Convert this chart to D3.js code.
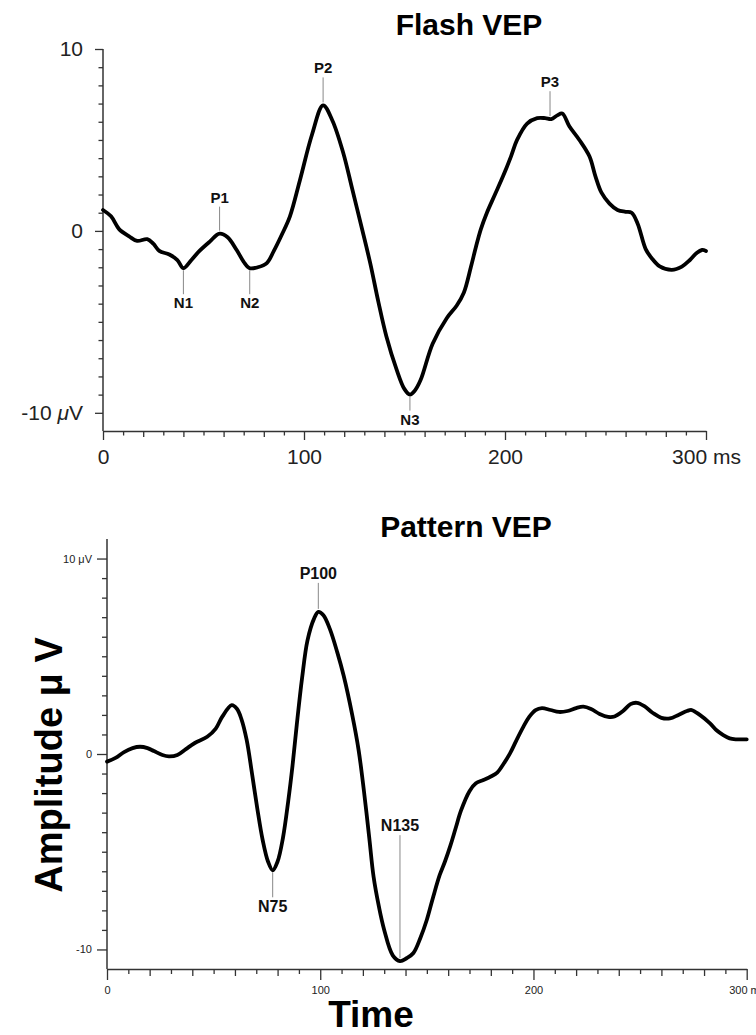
<!DOCTYPE html>
<html>
<head>
<meta charset="utf-8">
<script src="https://cdn.jsdelivr.net/npm/d3@7"></script>
<style>
  body { margin: 0; background: #fff; }
  svg { display: block; font-family: "Liberation Sans", Arial, Helvetica, sans-serif; }
</style>
</head>
<body>
<div id="chart"></div>
<script>
// Flash VEP trace (ms, microvolts)
var flashTime = [0, 4, 8, 13, 17, 22, 25, 28, 33, 37, 40, 44, 48, 53, 58, 62, 66.5, 70, 73, 77,
    81.5, 85, 89, 93, 98, 104, 109.5, 114, 119.5, 124, 129, 133, 137, 141, 146, 150, 152.7, 155,
    158, 164, 171, 176, 179.5, 183, 185.5, 188, 191, 195, 199, 203, 206, 211, 216, 220, 223, 226,
    228.5, 232, 237, 242, 245, 248, 252, 256, 260, 263, 266, 270, 273, 277, 283, 288, 292, 295.5,
    298, 300];
var flashValue = [1.15, 0.8, 0.1, -0.3, -0.55, -0.45, -0.7, -1.1, -1.3, -1.6, -2.05, -1.6, -1.1,
    -0.6, -0.15, -0.35, -1.05, -1.7, -2.05, -2.0, -1.77, -1.1, -0.2, 0.8, 2.8, 5.3, 6.9, 6.1, 4.3,
    2.3, 0.05, -1.8, -3.9, -5.8, -7.6, -8.7, -9.0, -8.8, -8.2, -6.2, -4.8, -4.1, -3.4, -2.0, -0.9,
    0.1, 1.0, 2.0, 3.0, 4.1, 5.0, 5.9, 6.2, 6.2, 6.15, 6.35, 6.45, 5.75, 5.0, 4.1, 3.0, 2.1, 1.5,
    1.15, 1.05, 1.0, 0.4, -1.0, -1.5, -1.95, -2.14, -1.96, -1.6, -1.2, -1.05, -1.1];

// Pattern VEP trace (ms, microvolts)
var patternTime = [0, 4, 8, 12, 15.5, 19, 22, 26, 29, 33, 37, 41, 47, 51, 54, 58.5, 61, 63, 65.5,
    68, 70.5, 73, 75.5, 77.7, 80, 82.5, 85, 87, 89, 91.5, 94, 97, 99.1, 101.5, 104.5, 108, 111,
    115, 118, 120.5, 123, 125, 127.5, 130, 134, 137.4, 140.5, 143.7, 147, 150, 153, 156, 158.5,
    161, 163.5, 166, 170, 173, 176.5, 180, 183, 186, 189, 192, 195.3, 198, 201, 204, 208, 212,
    216, 220, 223.4, 227, 231, 235, 238, 242, 245.5, 248.5, 252, 256, 260, 264, 268, 272, 274.2,
    278, 282.8, 286, 289, 292, 295, 300];
var patternValue = [-0.39, -0.2, 0.1, 0.3, 0.37, 0.3, 0.15, -0.05, -0.12, -0.05, 0.25, 0.55, 0.88,
    1.3, 1.9, 2.5, 2.3, 1.8, 0.72, -1.0, -2.8, -4.4, -5.5, -5.95, -5.5, -4.3, -2.4, -0.6, 1.5, 3.9,
    5.8, 6.9, 7.27, 7.1, 6.4, 5.2, 4.0, 2.0, 0.2, -1.9, -4.3, -6.27, -7.8, -9.0, -10.3, -10.6,
    -10.45, -10.18, -9.4, -8.48, -7.3, -6.2, -5.5, -4.7, -3.8, -2.9, -1.9, -1.5, -1.33, -1.15,
    -0.95, -0.5, 0.03, 0.7, 1.4, 1.9, 2.25, 2.35, 2.25, 2.15, 2.2, 2.35, 2.42, 2.3, 2.05, 1.9,
    1.92, 2.2, 2.55, 2.62, 2.45, 2.1, 1.85, 1.82, 2.0, 2.2, 2.25, 2.0, 1.57, 1.2, 0.97, 0.8,
    0.75, 0.75];

// peak markers
var flashPeakNames = ["P1", "P2", "P3", "N1", "N2", "N3"];
var flashPeakTimes = [58, 109.5, 222.4, 40, 73, 152.7];
var flashPeakValues = [-0.15, 6.9, 6.14, -2.05, -2.05, -9.0];
var patternPeakNames = ["P100", "N75", "N135"];
var patternPeakTimes = [99.1, 77.7, 137.4];
var patternPeakValues = [7.27, -5.95, -10.6];

// tick labels
var flashYLabels = { "10": "10", "0": "0", "-10": "-10 μV" };
var flashXLabels = { "0": "0", "100": "100", "200": "200", "300": "300 ms" };
var patternYLabels = { "10": "10 μV", "0": "0", "-10": "-10" };
var patternXLabels = { "0": "0", "100": "100", "200": "200", "300": "300 ms" };

var width = 756, height = 1035;

var svg = d3.select("#chart").append("svg")
    .attr("width", width)
    .attr("height", height);

function zip(ts, vs) {
    return ts.map(function(t, i) { return { t: t, v: vs[i] }; });
}

function drawPanel(opts) {
    var x = d3.scaleLinear().domain([0, 300]).range(opts.xRange);
    var y = d3.scaleLinear().domain(opts.yDomain).range(opts.yRange);
    var g = svg.append("g");

    // y axis
    var yAxis = g.append("g")
        .attr("transform", "translate(" + opts.xRange[0] + ",0)")
        .call(d3.axisLeft(y)
            .tickValues(d3.range(-10, 11))
            .tickSize(opts.minorTick)
            .tickSizeOuter(0)
            .tickPadding(opts.yPad)
            .tickFormat(function(d) { return opts.yLabels[d] || ""; }));
    yAxis.select(".domain").attr("stroke", "#333").attr("stroke-width", 1.5);
    yAxis.selectAll(".tick line")
        .attr("stroke", "#333").attr("stroke-width", 1.3)
        .attr("x2", function(d) { return d % 10 === 0 ? -opts.majorTick : -opts.minorTick; });
    yAxis.selectAll(".tick text")
        .attr("x", -opts.majorTick - opts.yPad)
        .attr("fill", "#222")
        .style("font-size", opts.tickFont + "px")
        .style("font-family", "'Liberation Sans', Arial, sans-serif");
    // italic mu on the flash axis label
    yAxis.selectAll(".tick text").each(function(d) {
        var s = opts.yLabels[d];
        if (opts.italicMu && s && s.indexOf("μ") >= 0) {
            var t = d3.select(this).text("");
            var parts = s.split("μ");
            t.append("tspan").text(parts[0]);
            t.append("tspan").style("font-style", "italic").text("μ");
            t.append("tspan").text(parts[1]);
        }
    });
    // extend y axis down to the x axis
    yAxis.select(".domain").attr("d", "M0," + y(opts.yDomain[1]) + "V" + opts.xAxisY);

    // x axis
    var xAxis = g.append("g")
        .attr("transform", "translate(0," + opts.xAxisY + ")")
        .call(d3.axisBottom(x)
            .tickValues(d3.range(0, 301, 10))
            .tickSize(opts.minorTick)
            .tickSizeOuter(0)
            .tickPadding(opts.xPad)
            .tickFormat(function(d) { return opts.xLabels[d] || ""; }));
    xAxis.select(".domain").attr("stroke", "#333").attr("stroke-width", 1.5);
    xAxis.selectAll(".tick line")
        .attr("stroke", "#333").attr("stroke-width", 1.3)
        .attr("y2", function(d) {
            if (d % 100 === 0) return opts.majorTick + 1;
            if (d % 20 === 0) return opts.midTick;
            return opts.minorTick;
        });
    xAxis.selectAll(".tick text")
        .attr("y", opts.xPad + opts.majorTick)
        .attr("fill", "#222")
        .style("font-size", opts.tickFont + "px")
        .style("font-family", "'Liberation Sans', Arial, sans-serif");

    // trace
    var line = d3.line()
        .x(function(d) { return x(d.t); })
        .y(function(d) { return y(d.v); })
        .curve(d3.curveCatmullRom.alpha(0.5));
    g.append("path")
        .datum(zip(opts.time, opts.value))
        .attr("d", line)
        .attr("fill", "none")
        .attr("stroke", "#000")
        .attr("stroke-width", 3.8)
        .attr("stroke-linejoin", "round")
        .attr("stroke-linecap", "round");

    // peak markers
    opts.peakNames.forEach(function(name, i) {
        var px = x(opts.peakTimes[i]), py = y(opts.peakValues[i]);
        var up = opts.stems[i] < 0;
        var y1 = up ? py - 3 : py + 2;
        var y2 = y1 + opts.stems[i];
        g.append("line")
            .attr("x1", px).attr("x2", px)
            .attr("y1", y1).attr("y2", y2)
            .attr("stroke", "#888").attr("stroke-width", 1);
        g.append("text")
            .attr("x", px)
            .attr("y", up ? y2 - 4 : y2 + opts.peakFont - 1)
            .attr("text-anchor", "middle")
            .attr("font-weight", "bold")
            .attr("fill", "#111")
            .style("font-size", opts.peakFont + "px")
            .text(name);
    });

    // title
    g.append("text")
        .attr("x", opts.titleX)
        .attr("y", opts.titleY)
        .attr("text-anchor", "middle")
        .attr("font-weight", "bold")
        .style("font-size", "30px")
        .text(opts.title);
}

drawPanel({
    title: "Flash VEP", titleX: 469, titleY: 35,
    xRange: [103, 706], yDomain: [-11, 10], yRange: [431, 49], xAxisY: 431,
    time: flashTime, value: flashValue,
    yLabels: flashYLabels, xLabels: flashXLabels, italicMu: true,
    majorTick: 8, midTick: 6, minorTick: 4.5, yPad: 12, xPad: 10, tickFont: 21,
    peakNames: flashPeakNames, peakTimes: flashPeakTimes, peakValues: flashPeakValues,
    stems: [-24, -25, -25, 24, 24, 14], peakFont: 15
});

drawPanel({
    title: "Pattern VEP", titleX: 466, titleY: 537,
    xRange: [107, 746.7], yDomain: [-11, 11], yRange: [969, 539], xAxisY: 969,
    time: patternTime, value: patternValue,
    yLabels: patternYLabels, xLabels: patternXLabels, italicMu: false,
    majorTick: 10, midTick: 7, minorTick: 5, yPad: 5, xPad: 7, tickFont: 11,
    peakNames: patternPeakNames, peakTimes: patternPeakTimes, peakValues: patternPeakValues,
    stems: [-26, 25, -123], peakFont: 16
});

// big axis titles of the pattern panel
svg.append("text")
    .attr("transform", "translate(62,765) rotate(-90)")
    .attr("text-anchor", "middle")
    .attr("font-weight", "bold")
    .style("font-size", "38px")
    .text("Amplitude μ V");

svg.append("text")
    .attr("x", 371)
    .attr("y", 1027)
    .attr("text-anchor", "middle")
    .attr("font-weight", "bold")
    .style("font-size", "37px")
    .text("Time");
</script>
</body>
</html>
